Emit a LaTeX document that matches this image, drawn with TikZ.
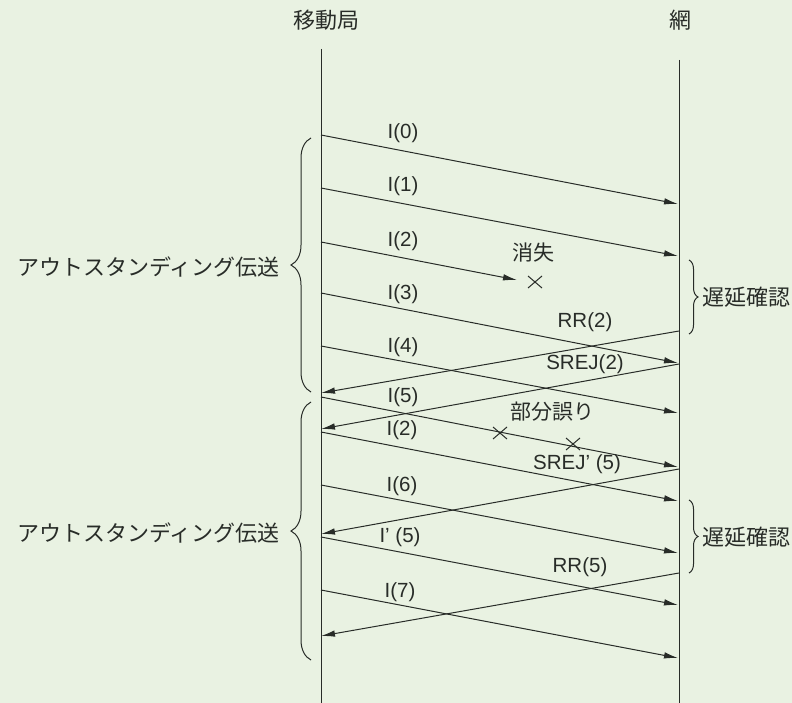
\documentclass[tikz,border=0pt]{standalone}
\usepackage{fontspec}
\setmainfont{Liberation Sans}
\newfontfamily\jp{Noto Sans CJK JP}
\usetikzlibrary{arrows.meta,decorations.pathreplacing}
\definecolor{bg}{RGB}{233,242,226}
\definecolor{ink}{RGB}{40,44,40}
\tikzset{
  life/.style={draw=ink,line width=1pt},
  msg/.style={draw=ink,line width=1pt,-{Latex[length=14pt,width=6.5pt]}},
  lbl/.style={text=ink,font=\fontsize{20.5}{20.5}\selectfont,inner sep=0pt},
  jlbl/.style={text=ink,font=\jp\fontsize{21}{21}\selectfont,inner sep=0pt},
  head/.style={text=ink,font=\jp\fontsize{22}{22}\selectfont,inner sep=0pt},
  lbrace/.style={draw=ink,line width=1pt,decorate,decoration={brace,amplitude=20pt}},
  rbrace/.style={draw=ink,line width=1pt,decorate,decoration={brace,amplitude=9pt}},
  xmark/.style={draw=ink,line width=1pt}
}
\begin{document}
\begin{tikzpicture}[x=1pt,y=-1pt]
\useasboundingbox[fill=bg] (0,0) rectangle (792,703);
% headings
\node[head] (ms) at (326,20) {移動局};
\node[head] (nw) at (680,20) {網};
% lifelines
\coordinate (Ltop) at (321,49); \coordinate (Lbot) at (321,703);
\coordinate (Rtop) at (679,60); \coordinate (Rbot) at (679,703);
\draw[life] (Ltop) -- (Lbot);
\draw[life] (Rtop) -- (Rbot);
% forward messages
\coordinate (a0) at (321,135); \coordinate (b0) at (678,204);
\coordinate (a1) at (321,188); \coordinate (b1) at (678,256);
\coordinate (a2) at (321,242); \coordinate (b2) at (517,280);
\coordinate (a3) at (321,293); \coordinate (b3) at (678,363);
\coordinate (a4) at (321,346); \coordinate (b4) at (678,413);
\coordinate (a5) at (321,397); \coordinate (b5) at (678,467);
\coordinate (a2r) at (321,432); \coordinate (b2r) at (678,501);
\coordinate (a6) at (321,485); \coordinate (b6) at (678,553);
\coordinate (a5r) at (321,537); \coordinate (b5r) at (678,605);
\coordinate (a7) at (321,590); \coordinate (b7) at (678,658);
\draw[msg] (a0) -- (b0);
\draw[msg] (a1) -- (b1);
\draw[msg] (a2) -- (b2);
\draw[msg] (a3) -- (b3);
\draw[msg] (a4) -- (b4);
\draw[msg] (a5) -- (b5);
\draw[msg] (a2r) -- (b2r);
\draw[msg] (a6) -- (b6);
\draw[msg] (a5r) -- (b5r);
\draw[msg] (a7) -- (b7);
% backward messages
\coordinate (rr2s) at (679,331); \coordinate (rr2e) at (321,393);
\coordinate (sj2s) at (679,364); \coordinate (sj2e) at (321,429);
\coordinate (sj5s) at (679,469); \coordinate (sj5e) at (321,534);
\coordinate (rr5s) at (679,573); \coordinate (rr5e) at (321,636);
\draw[msg] (rr2s) -- (rr2e);
\draw[msg] (sj2s) -- (sj2e);
\draw[msg] (sj5s) -- (sj5e);
\draw[msg] (rr5s) -- (rr5e);
% labels
\node[lbl] (l0) at (403,133) {I(0)};
\node[lbl] (l1) at (403,186) {I(1)};
\node[lbl] (l2) at (403,241) {I(2)};
\node[lbl] (l3) at (403,294) {I(3)};
\node[lbl] (l4) at (403,347) {I(4)};
\node[lbl] (l5) at (403,397) {I(5)};
\node[lbl] (l2r) at (402,430) {I(2)};
\node[lbl] (l6) at (402,486) {I(6)};
\node[lbl] (l5r) at (400,537) {I’ (5)};
\node[lbl] (l7) at (400,592) {I(7)};
\node[lbl] (lrr2) at (585,322) {RR(2)};
\node[lbl] (lsj2) at (585,364) {SREJ(2)};
\node[lbl] (lsj5) at (577,464) {SREJ’ (5)};
\node[lbl] (lrr5) at (580,567) {RR(5)};
\node[jlbl] (lost) at (533,253) {消失};
\node[jlbl] (perr) at (552,412) {部分誤り};
% cross marks
\foreach \n/\cx/\cy in {x1/535/282, x2/500/433, x3/573/444}{
  \coordinate (\n) at (\cx,\cy);
  \draw[xmark] ([shift={(-7,-6)}]\n) -- ([shift={(7,6)}]\n);
  \draw[xmark] ([shift={(-7,6)}]\n) -- ([shift={(7,-6)}]\n);
}
% left braces
\coordinate (lb1t) at (311,138); \coordinate (lb1b) at (311,392);
\coordinate (lb2t) at (311,402); \coordinate (lb2b) at (311,660);
\draw[lbrace] (lb1b) -- (lb1t);
\draw[lbrace] (lb2b) -- (lb2t);
\node[head,anchor=east] (ot1) at (280,267) {アウトスタンディング伝送};
\node[head,anchor=east] (ot2) at (280,533) {アウトスタンディング伝送};
% right braces
\coordinate (rb1t) at (689,260); \coordinate (rb1b) at (689,334);
\coordinate (rb2t) at (689,500); \coordinate (rb2b) at (689,573);
\draw[rbrace] (rb1t) -- (rb1b);
\draw[rbrace] (rb2t) -- (rb2b);
\node[head,anchor=west] (dc1) at (702,297) {遅延確認};
\node[head,anchor=west] (dc2) at (702,537) {遅延確認};
\end{tikzpicture}
\end{document}
